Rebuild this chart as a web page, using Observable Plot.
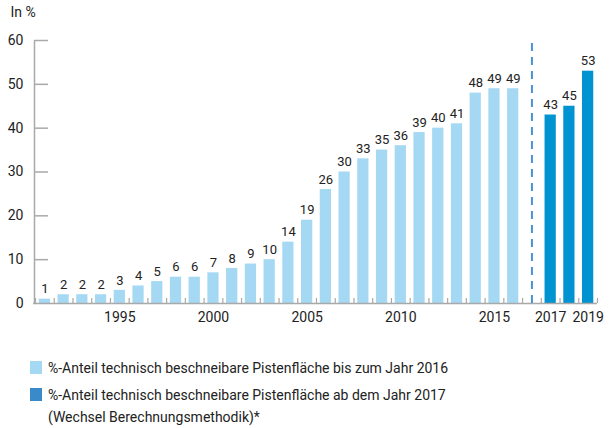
<!DOCTYPE html>
<html>
<head>
<meta charset="utf-8">
<script src="https://cdn.jsdelivr.net/npm/d3@7"></script>
<script src="https://cdn.jsdelivr.net/npm/@observablehq/plot@0.6"></script>
<style>
  html, body { margin: 0; padding: 0; background: #fff; }
  body { font-family: Roboto, "DejaVu Sans Condensed", sans-serif; color: #222; }
  #wrap { position: relative; width: 613px; height: 428px; }
  .leg { position: absolute; left: 30px; font-size: 14px; line-height: 22px; color: #222; }
  .sw { position: absolute; left: 0; width: 12px; height: 13px; }
  .lt { position: absolute; left: 18px; white-space: nowrap; }
</style>
</head>
<body>
<div id="wrap">
  <div id="chart"></div>
  <div class="leg" style="top:357px;">
    <div class="sw" style="top:4px;background:#a5d9f3;"></div>
    <div class="lt" style="top:0;">%-Anteil technisch beschneibare Pistenfläche bis zum Jahr 2016</div>
  </div>
  <div class="leg" style="top:384px;">
    <div class="sw" style="top:4px;background:#3a89c9;"></div>
    <div class="lt" style="top:0;">%-Anteil technisch beschneibare Pistenfläche ab dem Jahr 2017<br>(Wechsel Berechnungsmethodik)*</div>
  </div>
</div>
<script>
// Data
const yearsOld = [1991,1992,1993,1994,1995,1996,1997,1998,1999,2000,2001,2002,2003,2004,2005,2006,2007,2008,2009,2010,2011,2012,2013,2014,2015,2016];
const valuesOld = [1,2,2,2,3,4,5,6,6,7,8,9,10,14,19,26,30,33,35,36,39,40,41,48,49,49];
const yearsNew = [2017,2018,2019];
const valuesNew = [43,45,53];
const xTickLabels = ["1995","2000","2005","2010","2015","2017","2019"];
const yTicks = [0,10,20,30,40,50,60];
const gapKey = "gap";

const slots = [...yearsOld.map(String), gapKey, ...yearsNew.map(String)];
const oldData = yearsOld.map((y,i) => ({year: String(y), value: valuesOld[i]}));
const newData = yearsNew.map((y,i) => ({year: String(y), value: valuesNew[i]}));
const allData = [...oldData, ...newData];

const W = 613, H = 340, mL = 35, mR = 16, mT = 40, mB = 37;
const step = (W - mL - mR) / slots.length;
const font = "Roboto, 'DejaVu Sans Condensed', sans-serif";
const axisGray = "#a9a9a9";

const plot = Plot.plot({
  width: W, height: H,
  marginLeft: mL, marginRight: mR, marginTop: mT, marginBottom: mB,
  style: {fontFamily: font, fontSize: "14px", color: "#222", background: "#fff"},
  x: {domain: slots, paddingInner: 0.4, paddingOuter: 0.2, round: false, axis: null},
  y: {domain: [0, 60], axis: null},
  marks: [
    Plot.axisY({ticks: yTicks, tickSize: 0, tickPadding: 12, label: null, fontSize: 14, fill: "#222"}),
    Plot.ruleY(yTicks.filter(d => d > 0), {stroke: axisGray, strokeWidth: 1.5, insetRight: (W - mL - mR) - 14, dx: -1}),
    Plot.axisX({ticks: xTickLabels, tickSize: 0, tickPadding: 9, label: null, fontSize: 14, fill: "#222"}),
    Plot.barY(oldData, {x: "year", y: "value", fill: "#a5d9f3"}),
    Plot.barY(newData, {x: "year", y: "value", fill: "#0093d2"}),
    Plot.ruleX(slots, {x: d => d, y1: 0, y2: 1.15, dx: -step/2, stroke: axisGray, strokeWidth: 1.2}),
    Plot.ruleX([slots[slots.length - 1]], {x: d => d, y1: 0, y2: 1.15, dx: step/2, stroke: axisGray, strokeWidth: 1.2}),
    Plot.ruleX([slots[0]], {x: d => d, y1: 0, y2: 60, dx: -step/2 - 1, stroke: axisGray, strokeWidth: 1.5}),
    Plot.ruleY([0], {stroke: axisGray, strokeWidth: 1.5, insetLeft: -2}),
    Plot.ruleX([gapKey], {x: d => d, y1: 0, y2: 60, stroke: "#4a93d3", strokeWidth: 2, strokeDasharray: "8,6"}),
    Plot.text(allData, {x: "year", y: "value", text: d => String(d.value), dy: -10, fontSize: 13, fill: "#222"}),
    Plot.text(["In %"], {frameAnchor: "top-left", dx: -25, dy: -33, textAnchor: "start", fontSize: 14, fill: "#222"})
  ]
});
document.getElementById("chart").appendChild(plot);
</script>
</body>
</html>
